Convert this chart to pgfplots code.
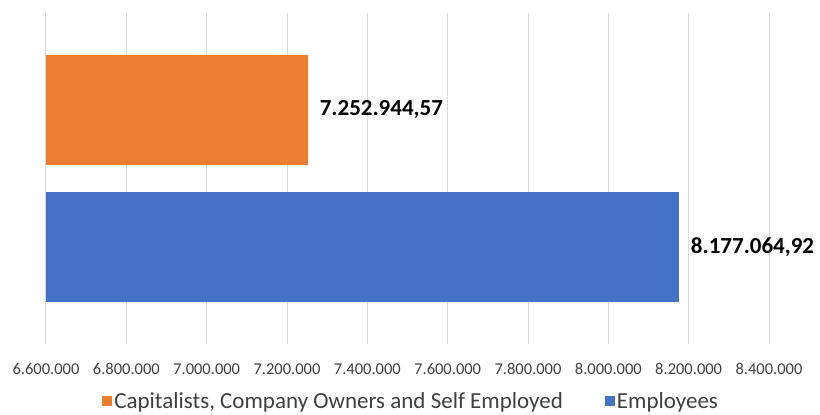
\documentclass[border=0pt]{standalone}
\usepackage{pgfplots}
\pgfplotsset{compat=1.18}
\usepackage{fontspec}
\setmainfont{Carlito}
\definecolor{corange}{HTML}{ED7D31}
\definecolor{cblue}{HTML}{4472C4}
\definecolor{cgrid}{HTML}{D9D9D9}
\definecolor{ctext}{HTML}{404040}
\begin{document}
\begin{tikzpicture}
\begin{axis}[
  scale only axis,
  width=723pt, height=331pt,
  xbar, bar shift=0pt, bar width=0.803,
  xmin=6600000, xmax=8400000,
  ymin=-0.708, ymax=1.708,
  axis line style={draw=none},
  ytick=\empty,
  xtick={6600000,6800000,7000000,7200000,7400000,7600000,7800000,8000000,8200000,8400000},
  xticklabels={6.600.000,6.800.000,7.000.000,7.200.000,7.400.000,7.600.000,7.800.000,8.000.000,8.200.000,8.400.000},
  scaled x ticks=false,
  major tick length=0pt,
  xmajorgrids, grid style={cgrid, line width=1pt},
  xticklabel style={font=\fontsize{16.5}{18}\selectfont, text=ctext, yshift=-16pt},
  legend style={draw=none, at={(0.505,-0.173)}, anchor=center, font=\fontsize{23}{25}\selectfont, text=ctext,
    inner ysep=0pt, legend columns=2, /tikz/every even column/.append style={column sep=40pt}},
  legend image code/.code={\fill[#1,draw=none] (-2pt,-5pt) rectangle (8pt,5pt);},
  nodes near coords, point meta=explicit symbolic,
  every node near coord/.append style={font=\bfseries\fontsize{23}{25}\selectfont, text=black, anchor=west, xshift=8pt},
  clip=false,
]
\addplot[fill=corange, draw=none] coordinates {(7252944.57,1) [7.252.944,57]};
\addlegendentry{Capitalists, Company Owners and Self Employed}
\addplot[fill=cblue, draw=none] coordinates {(8177064.92,0) [8.177.064,92]};
\addlegendentry{Employees}
\coordinate (sw) at (rel axis cs:0,0);
\coordinate (ne) at (rel axis cs:1,1);
\end{axis}
\pgfresetboundingbox
\useasboundingbox ([shift={(-46pt,-70pt)}]sw) rectangle ([shift={(51pt,13pt)}]ne);
\end{tikzpicture}
\end{document}
